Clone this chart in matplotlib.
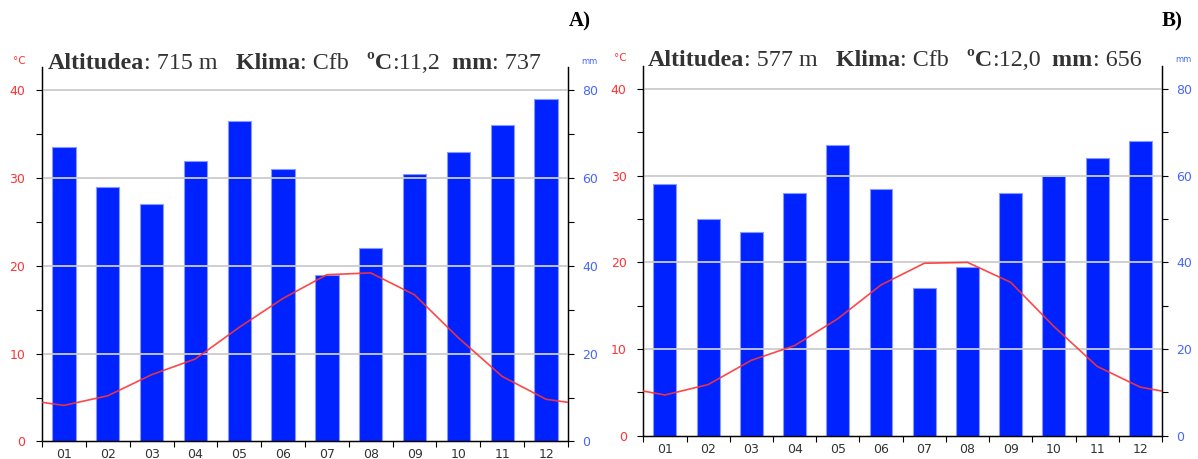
import matplotlib
matplotlib.use("Agg")
import matplotlib.pyplot as plt
import numpy as np

W, H = 1198, 459

months = ["01", "02", "03", "04", "05", "06", "07", "08", "09", "10", "11", "12"]

precip_a = [67, 58, 54, 64, 73, 62, 38, 44, 61, 66, 72, 78]
temp_a = [4.1, 5.2, 7.6, 9.4, 13.0, 16.3, 19.0, 19.2, 16.7, 11.8, 7.4, 4.8]
title_a = [("Altitudea", "bold"), (": 715 m", "normal"), ("   Klima", "bold"),
           (": Cfb", "normal"), ("   ºC", "bold"), (":11,2", "normal"),
           ("  mm", "bold"), (": 737", "normal")]

precip_b = [58, 50, 47, 56, 67, 57, 34, 39, 56, 60, 64, 68]
temp_b = [4.7, 5.9, 8.7, 10.4, 13.5, 17.4, 19.9, 20.0, 17.7, 12.6, 8.0, 5.6]
title_b = [("Altitudea", "bold"), (": 577 m", "normal"), ("   Klima", "bold"),
           (": Cfb", "normal"), ("   ºC", "bold"), (":12,0", "normal"),
           ("  mm", "bold"), (": 656", "normal")]

temp_ticks = [0, 10, 20, 30, 40]
mm_ticks = [0, 20, 40, 60, 80]

BAR_C = "#0022ff"
BAR_EDGE = "#8899ff"
LINE_C = "#ff3333"
RED_TXT = "#ff3333"
BLUE_TXT = "#4466ff"
GRID_C = "#cccccc"
TXT_C = "#333333"

fig = plt.figure(figsize=(W / 100, H / 100), dpi=100)


def px_axes(left, top, right, bottom):
    return [left / W, 1 - bottom / H, (right - left) / W, (bottom - top) / H]


def panel(rect, precip, temp, title, title_xy, label, label_xy, unit_c_xy, unit_mm_xy):
    ax_mm = fig.add_axes(rect)
    ax_t = ax_mm.twinx()
    x = np.arange(1, 13)
    tmax = 42.7
    ax_t.set_ylim(0, tmax)
    ax_mm.set_ylim(0, tmax * 2)
    ax_mm.set_xlim(0.5, 12.5)

    for v in temp_ticks[1:]:
        ax_t.axhline(v, color=GRID_C, lw=1.3, zorder=0)

    ax_mm.bar(x, precip, width=0.53, color=BAR_C, edgecolor=BAR_EDGE, linewidth=0.8, zorder=2)

    edge = (temp[0] + temp[-1]) / 2
    xs = np.concatenate([[0.5], x, [12.5]])
    ys = np.concatenate([[edge], temp, [edge]])
    ax_t.plot(xs, ys, color=LINE_C, lw=1.2, alpha=0.9, zorder=3)

    ax_t.yaxis.set_ticks_position("left")
    ax_t.yaxis.set_label_position("left")
    ax_mm.yaxis.set_ticks_position("right")
    ax_mm.yaxis.set_label_position("right")

    ax_t.set_yticks(temp_ticks)
    ax_t.set_yticks([5, 15, 25, 35], minor=True)
    ax_mm.set_yticks(mm_ticks)
    ax_mm.set_yticks([10, 30, 50, 70], minor=True)
    ax_t.tick_params(axis="y", which="both", direction="out", length=4, width=0.8,
                     colors="black", labelcolor=RED_TXT, labelsize=9, pad=8)
    ax_mm.tick_params(axis="y", which="both", direction="out", length=4, width=0.8,
                      colors="black", labelcolor=BLUE_TXT, labelsize=9, pad=6)

    ax_mm.set_xticks(np.arange(0.5, 13.0, 1.0))
    ax_mm.set_xticklabels([])
    ax_mm.set_xticks(x, minor=True)
    ax_mm.set_xticklabels(months, minor=True)
    ax_mm.tick_params(axis="x", which="major", direction="out", length=4, width=0.8, colors="black")
    ax_mm.tick_params(axis="x", which="minor", length=0, labelsize=9, labelcolor=TXT_C, pad=5)
    ax_t.tick_params(axis="x", which="both", bottom=False, top=False, labelbottom=False)

    for a in (ax_mm, ax_t):
        a.spines["top"].set_visible(False)
        for s in ("left", "right", "bottom"):
            a.spines[s].set_color("black")
            a.spines[s].set_linewidth(0.9)

    renderer = fig.canvas.get_renderer()
    xx, yy = title_xy
    for txt, wgt in title:
        t = fig.text(xx / W, 1 - yy / H, txt, fontsize=17.3, fontweight=wgt,
                     family="Liberation Serif", color=TXT_C, ha="left", va="baseline")
        bb = t.get_window_extent(renderer)
        xx += bb.width

    fig.text(label_xy[0] / W, 1 - label_xy[1] / H, label, fontsize=15, fontweight="bold",
             family="Liberation Serif", color="black", ha="center", va="center")
    fig.text(unit_c_xy[0] / W, 1 - unit_c_xy[1] / H, "°C", fontsize=7.5, color=RED_TXT,
             ha="center", va="center")
    fig.text(unit_mm_xy[0] / W, 1 - unit_mm_xy[1] / H, "mm", fontsize=6, color=BLUE_TXT,
             ha="center", va="center")


panel(px_axes(42, 66.7, 568, 441.4), precip_a, temp_a, title_a, (48, 69), "A)", (580, 21),
      (19, 61), (589, 62))
panel(px_axes(643.3, 65.7, 1162, 435.7), precip_b, temp_b, title_b, (648, 66), "B)", (1172, 21),
      (620, 58), (1183, 59))

fig.savefig("out.png", dpi=100)
